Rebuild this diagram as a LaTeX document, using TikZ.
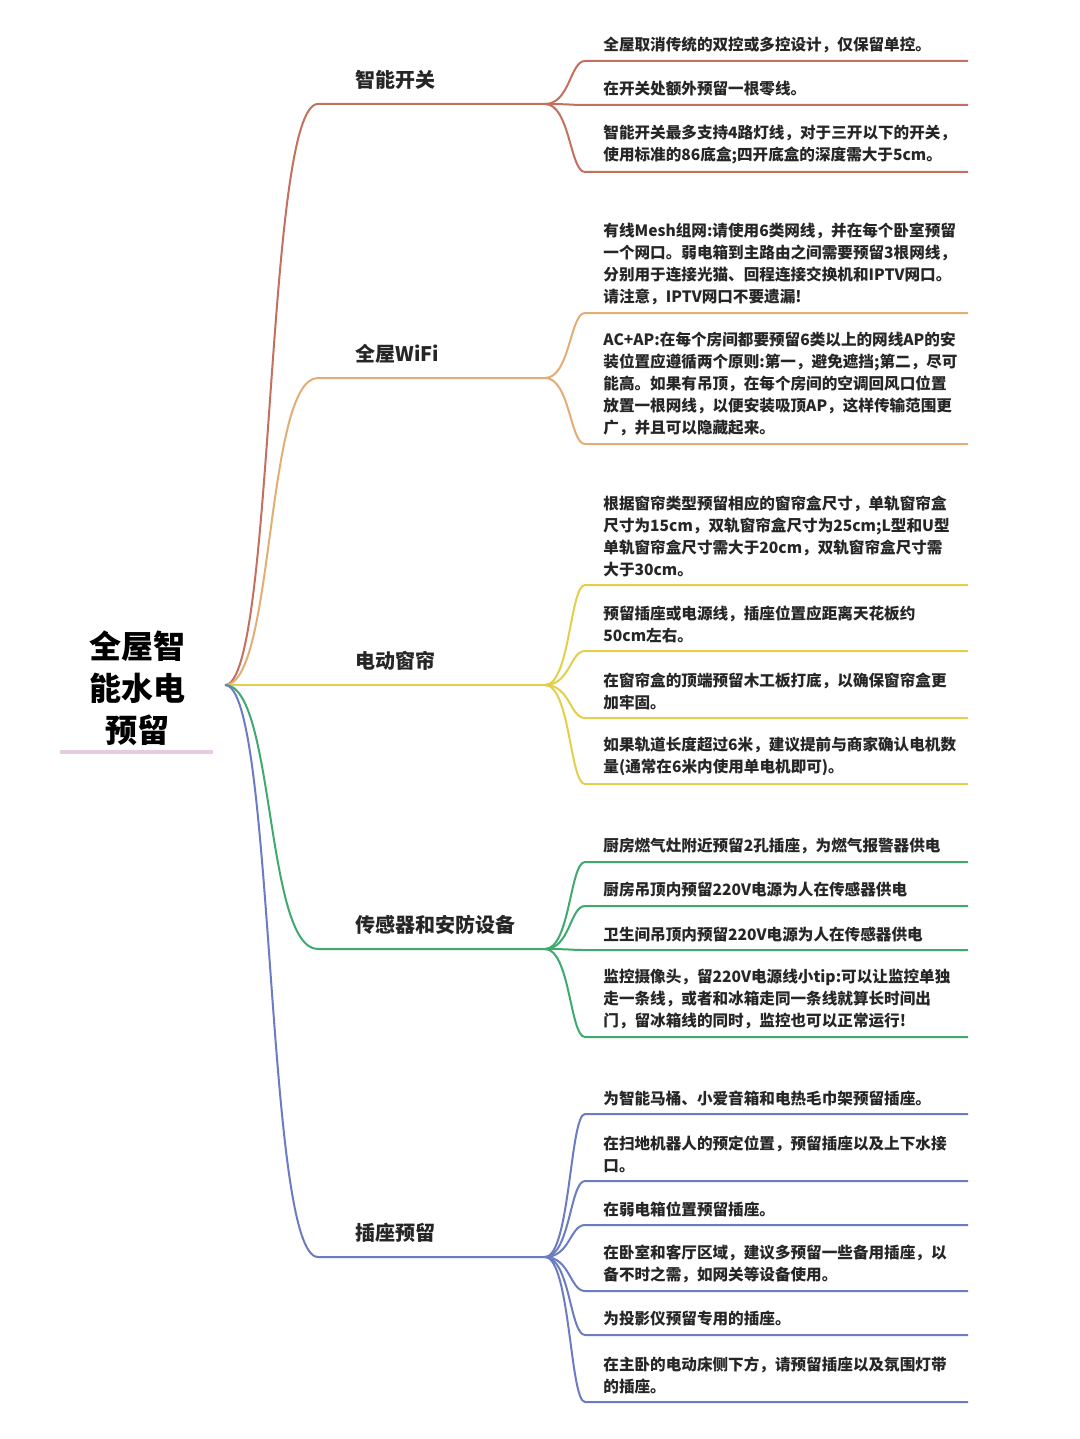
\documentclass[tikz,border=0pt]{standalone}
\usepackage{fontspec}
\setmainfont{Noto Sans CJK SC}
\begin{document}
\begin{tikzpicture}[x=0.5pt,y=-0.5pt,
  leaf/.style={anchor=south west,inner sep=0pt,align=left,font=\bfseries\fontsize{7.8}{11}\selectfont,text=black!85},
  blabel/.style={anchor=south west,inner sep=0pt,font=\bfseries\fontsize{10}{12}\selectfont,text=black!85},
  con/.style={line width=1pt}]
\definecolor{c1}{HTML}{C4705E}
\definecolor{c2}{HTML}{E2AE76}
\definecolor{c3}{HTML}{E3CF4C}
\definecolor{c4}{HTML}{3FA96F}
\definecolor{c5}{HTML}{6C7CC2}
\useasboundingbox[fill=white] (0,0) rectangle (1080,1439);
\node[inner sep=0pt,align=center,font=\bfseries\fontsize{16}{21}\selectfont] (root) at (137,688) {全屋智\\能水电\\预留};
\draw[line width=2pt,color=violet!20] (60,752) -- (213,752);
\coordinate (R) at (225,685);
\newcommand{\mybranch}[4]{%
  \coordinate (#1s) at (318,#3);
  \coordinate (#1e) at (545,#3);
  \draw[con,#2] (R) .. controls (275,685) and (265,#3) .. (#1s) -- (#1e);
  \node[blabel] (#1l) at (355,#3-14) {#4};
}
\mybranch{A}{c1}{104}{智能开关}
\mybranch{B}{c2}{378}{全屋WiFi}
\mybranch{C}{c3}{685}{电动窗帘}
\mybranch{D}{c4}{949}{传感器和安防设备}
\mybranch{E}{c5}{1257}{插座预留}
\newcommand{\leafA}[3]{\coordinate(#1a) at (585,#2);\coordinate(#1b) at (968,#2);
 \draw[con,c1] (Ae) .. controls (570,104) and (570,#2) .. (#1a) -- (#1b);\node[leaf] (#1t) at (603,#2-8) {#3};}
\newcommand{\leafB}[3]{\coordinate(#1a) at (585,#2);\coordinate(#1b) at (968,#2);
 \draw[con,c2] (Be) .. controls (570,378) and (570,#2) .. (#1a) -- (#1b);\node[leaf] (#1t) at (603,#2-8) {#3};}
\newcommand{\leafC}[3]{\coordinate(#1a) at (585,#2);\coordinate(#1b) at (968,#2);
 \draw[con,c3] (Ce) .. controls (570,685) and (570,#2) .. (#1a) -- (#1b);\node[leaf] (#1t) at (603,#2-8) {#3};}
\newcommand{\leafD}[3]{\coordinate(#1a) at (585,#2);\coordinate(#1b) at (968,#2);
 \draw[con,c4] (De) .. controls (570,949) and (570,#2) .. (#1a) -- (#1b);\node[leaf] (#1t) at (603,#2-8) {#3};}
\newcommand{\leafE}[3]{\coordinate(#1a) at (585,#2);\coordinate(#1b) at (968,#2);
 \draw[con,c5] (Ee) .. controls (570,1257) and (570,#2) .. (#1a) -- (#1b);\node[leaf] (#1t) at (603,#2-8) {#3};}
\leafA{a1}{61}{全屋取消传统的双控或多控设计，仅保留单控。}
\leafA{a2}{105}{在开关处额外预留一根零线。}
\leafA{a3}{172}{智能开关最多支持4路灯线，对于三开以下的开关，\\使用标准的86底盒;四开底盒的深度需大于5cm。}
\leafB{b1}{313}{有线Mesh组网:请使用6类网线，并在每个卧室预留\\一个网口。弱电箱到主路由之间需要预留3根网线，\\分别用于连接光猫、回程连接交换机和IPTV网口。\\请注意，IPTV网口不要遗漏!}
\leafB{b2}{444}{AC+AP:在每个房间都要预留6类以上的网线AP的安\\装位置应遵循两个原则:第一，避免遮挡;第二，尽可\\能高。如果有吊顶，在每个房间的空调回风口位置\\放置一根网线，以便安装吸顶AP，这样传输范围更\\广，并且可以隐藏起来。}
\leafC{c1l}{585}{根据窗帘类型预留相应的窗帘盒尺寸，单轨窗帘盒\\尺寸为15cm，双轨窗帘盒尺寸为25cm;L型和U型\\单轨窗帘盒尺寸需大于20cm，双轨窗帘盒尺寸需\\大于30cm。}
\leafC{c2l}{651}{预留插座或电源线，插座位置应距离天花板约\\50cm左右。}
\leafC{c3l}{718}{在窗帘盒的顶端预留木工板打底，以确保窗帘盒更\\加牢固。}
\leafC{c4l}{784}{如果轨道长度超过6米，建议提前与商家确认电机数\\量(通常在6米内使用单电机即可)。}
\leafD{d1}{862}{厨房燃气灶附近预留2孔插座，为燃气报警器供电}
\leafD{d2}{906}{厨房吊顶内预留220V电源为人在传感器供电}
\leafD{d3}{950}{卫生间吊顶内预留220V电源为人在传感器供电}
\leafD{d4}{1037}{监控摄像头，留220V电源线小tip:可以让监控单独\\走一条线，或者和冰箱走同一条线就算长时间出\\门，留冰箱线的同时，监控也可以正常运行!}
\leafE{e1}{1114}{为智能马桶、小爱音箱和电热毛巾架预留插座。}
\leafE{e2}{1181}{在扫地机器人的预定位置，预留插座以及上下水接\\口。}
\leafE{e3}{1225}{在弱电箱位置预留插座。}
\leafE{e4}{1291}{在卧室和客厅区域，建议多预留一些备用插座，以\\备不时之需，如网关等设备使用。}
\leafE{e5}{1335}{为投影仪预留专用的插座。}
\leafE{e6}{1402}{在主卧的电动床侧下方，请预留插座以及氛围灯带\\的插座。}
\end{tikzpicture}
\end{document}
